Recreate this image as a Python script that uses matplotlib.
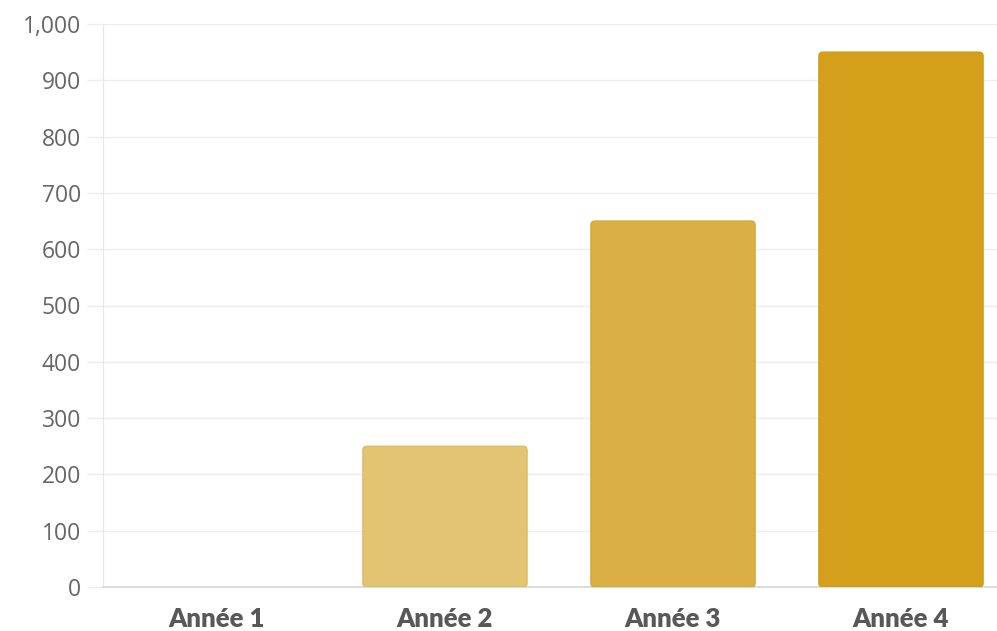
import matplotlib
matplotlib.use("Agg")
import matplotlib.pyplot as plt
from matplotlib.patches import FancyBboxPatch
from matplotlib.ticker import FuncFormatter

# ── Data ──────────────────────────────────────────────────────────────────────
CATEGORIES = ["Année 1", "Année 2", "Année 3", "Année 4"]
VALUES = [0, 250, 650, 950]
BAR_COLORS = ["#E8CD85", "#E3C473", "#DAB044", "#D4A01B"]
EDGE_COLORS = ["#E0C070", "#DDBB62", "#D4A838", "#CE9A14"]
Y_TICKS = list(range(0, 1001, 100))

# ── Figure ────────────────────────────────────────────────────────────────────
W, H = 997, 631
fig = plt.figure(figsize=(W / 100, H / 100), dpi=100)
ax = fig.add_axes([103 / W, 44 / H, 912 / W, 563 / H])

bars = ax.bar(range(len(CATEGORIES)), VALUES, width=0.72, color=BAR_COLORS,
              zorder=3)

# swap plain rectangles for slightly rounded ones (radius ~4 px)
px_x = 4.0 / 912 * 4.0          # x data units per 4 px
aspect = (1000 / 563) / (4.0 / 912)
for rect, fc, ec in zip(bars.patches, BAR_COLORS, EDGE_COLORS):
    if rect.get_height() <= 0:
        rect.set_visible(False)
        continue
    rb = FancyBboxPatch((rect.get_x(), rect.get_y()), rect.get_width(),
                        rect.get_height(),
                        boxstyle=f"round,pad=0,rounding_size={px_x}",
                        mutation_aspect=aspect,
                        facecolor=fc, edgecolor=ec, lw=1.0, zorder=3)
    rect.set_visible(False)
    ax.add_patch(rb)

ax.set_xlim(-0.5, 3.5)
ax.set_ylim(0, 1000)
ax.set_yticks(Y_TICKS)
ax.yaxis.set_major_formatter(FuncFormatter(lambda v, _: f"{int(v):,}"))
ax.set_xticks(range(len(CATEGORIES)))
ax.set_xticklabels(CATEGORIES, fontfamily="Lato", fontweight="heavy",
                   fontsize=18.5, color="#585858")

ax.grid(axis="y", color="#EDEDED", lw=1.0, zorder=0)
ax.tick_params(axis="y", length=11.5, color="#EDEDED", width=1.0, pad=4.3,
               labelsize=16.5, labelcolor="#666666")
for lbl in ax.get_yticklabels():
    lbl.set_fontfamily("Open Sans")
ax.tick_params(axis="x", length=0, pad=14.5)

for side in ["top", "right"]:
    ax.spines[side].set_visible(False)
ax.spines["left"].set_color("#E6E6E6")
ax.spines["bottom"].set_color("#D6D6D6")
ax.spines["bottom"].set_linewidth(1.2)

fig.savefig("out.png", dpi=100)
